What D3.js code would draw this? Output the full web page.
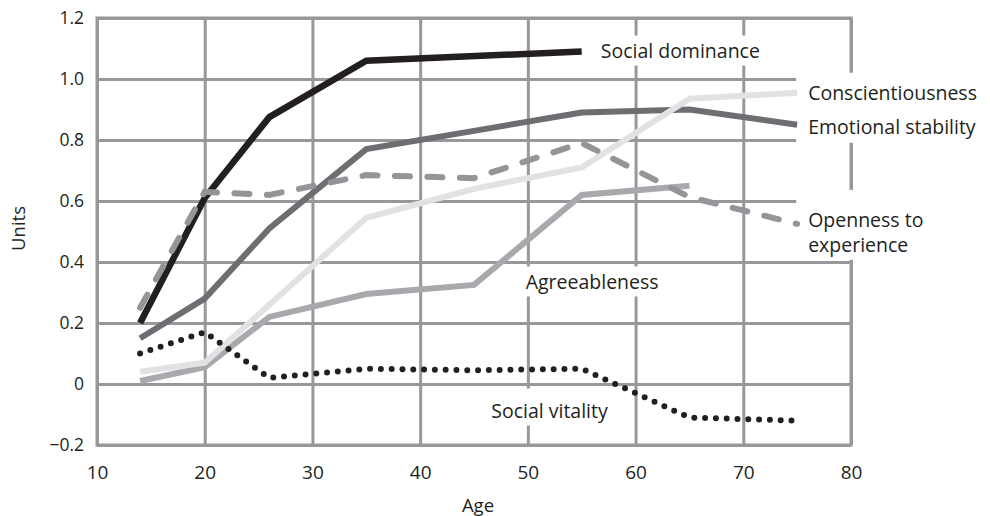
<!DOCTYPE html>
<html>
<head>
<meta charset="utf-8">
<script src="https://cdn.jsdelivr.net/npm/d3@7"></script>
<style>
  html, body { margin: 0; padding: 0; background: #fff; }
  svg { display: block; font-family: "Open Sans", sans-serif; }
</style>
</head>
<body>
<svg id="chart" width="990" height="516"></svg>
<script>
// Axis ticks
const xTicks = [10, 20, 30, 40, 50, 60, 70, 80];
const xTickLabels = ["10", "20", "30", "40", "50", "60", "70", "80"];
const yTicks = [-0.2, 0, 0.2, 0.4, 0.6, 0.8, 1.0, 1.2];
const yTickLabels = ["−0.2", "0", "0.2", "0.4", "0.6", "0.8", "1.0", "1.2"];

// Mean change in each trait (units) by age
const socialDominanceAges = [14, 20, 26, 35, 55];
const socialDominance = [0.20, 0.61, 0.875, 1.06, 1.09];

const emotionalStabilityAges = [14, 20, 26, 35, 45, 55, 65, 75];
const emotionalStability = [0.15, 0.28, 0.51, 0.77, 0.83, 0.89, 0.90, 0.85];

const agreeablenessAges = [14, 20, 26, 35, 45, 55, 65];
const agreeableness = [0.01, 0.055, 0.22, 0.295, 0.325, 0.62, 0.65];

const conscientiousnessAges = [14, 20, 35, 45, 55, 65, 75];
const conscientiousness = [0.04, 0.07, 0.545, 0.64, 0.71, 0.935, 0.955];

const opennessAges = [14, 20, 26, 35, 45, 55, 65, 75];
const openness = [0.25, 0.63, 0.62, 0.685, 0.675, 0.79, 0.613, 0.525];

const socialVitalityAges = [14, 20, 26, 35, 45, 55, 65, 75];
const socialVitality = [0.10, 0.17, 0.02, 0.05, 0.045, 0.05, -0.11, -0.12];

const GRID = "#98989b";
const svg = d3.select("#chart");

const x = d3.scaleLinear().domain([10, 80]).range([97, 851]);
const y = d3.scaleLinear().domain([-0.2, 1.2]).range([445, 18]);

// Grid lines come from the axes' tick lines
const gx = svg.append("g")
  .attr("transform", `translate(0,${y(-0.2)})`)
  .call(d3.axisBottom(x)
    .tickValues(xTicks)
    .tickFormat((d, i) => xTickLabels[i])
    .tickSize(-(y(-0.2) - y(1.2)))
    .tickPadding(21));
const gy = svg.append("g")
  .attr("transform", `translate(${x(10)},0)`)
  .call(d3.axisLeft(y)
    .tickValues(yTicks)
    .tickFormat((d, i) => yTickLabels[i])
    .tickSize(-(x(80) - x(10)))
    .tickPadding(13));

[gx, gy].forEach(g => {
  g.select(".domain").remove();
  g.selectAll(".tick line").attr("stroke", GRID).attr("stroke-width", 3);
  g.selectAll(".tick text").attr("fill", "#231f20").attr("font-family", "Open Sans, sans-serif");
});
gx.selectAll(".tick text").attr("font-size", 19);
gy.selectAll(".tick text").attr("font-size", 17.5).attr("dy", "0.34em");

svg.append("rect")
  .attr("x", x(10)).attr("y", y(1.2))
  .attr("width", x(80) - x(10)).attr("height", y(-0.2) - y(1.2))
  .attr("fill", "none").attr("stroke", GRID).attr("stroke-width", 3);

// Axis titles
svg.append("text")
  .attr("x", (x(10) + x(80)) / 2 + 4).attr("y", 512)
  .attr("text-anchor", "middle").attr("font-size", 18.5).attr("fill", "#231f20")
  .text("Age");
svg.append("text")
  .attr("transform", `translate(25,${y(0.51)}) rotate(-90)`)
  .attr("text-anchor", "middle").attr("font-size", 18.5).attr("fill", "#231f20")
  .text("Units");

// Series labels, each on a white patch that breaks the grid behind it
const labelLayer = svg.append("g");
const lineLayer = svg.append("g");
const textLayer = svg.append("g");

const labelSpecs = [
  { lines: ["Social dominance"], x: x(55) + 19, y: y(1.09) + 6, pad: [1, 10, 2, 8] },
  { lines: ["Conscientiousness", "Emotional stability"], x: x(75) + 11, y: y(0.955) + 7, gap: 34, pad: [6, 40, 3, 12] },
  { lines: ["Openness to", "experience"], x: x(75) + 11, y: y(0.525) + 3, gap: 25, pad: [16, 120, 2, 12] },
  { lines: ["Agreeableness"], x: x(49.8), y: y(0.31), pad: [2, 10, 1, 10] },
  { lines: ["Social vitality"], x: x(46.6), y: y(-0.11), pad: [8, 10, 2, 10] }
];

labelSpecs.forEach(s => {
  const t = textLayer.append("text")
    .attr("font-size", 19.5).attr("fill", "#231f20");
  s.lines.forEach((ln, i) => {
    t.append("tspan").attr("x", s.x).attr("y", s.y + i * (s.gap || 0)).text(ln);
  });
  const b = t.node().getBBox();
  labelLayer.append("rect")
    .attr("x", b.x - s.pad[3]).attr("y", b.y - s.pad[0])
    .attr("width", b.width + s.pad[1] + s.pad[3])
    .attr("height", b.height + s.pad[0] + s.pad[2])
    .attr("fill", "#fff");
});

const line = d3.line().x(d => x(d[0])).y(d => y(d[1]));
const series = [
  { ages: socialDominanceAges, vals: socialDominance, color: "#231f20", width: 6.5 },
  { ages: emotionalStabilityAges, vals: emotionalStability, color: "#6d6e71", width: 6 },
  { ages: agreeablenessAges, vals: agreeableness, color: "#a7a9ac", width: 6 },
  { ages: conscientiousnessAges, vals: conscientiousness, color: "#e1e2e3", width: 6 },
  { ages: opennessAges, vals: openness, color: "#939598", width: 6, dash: "15 17.5", cap: "round" },
  { ages: socialVitalityAges, vals: socialVitality, color: "#231f20", width: 6, dash: "0 10.8", cap: "round" }
];

series.forEach(s => {
  lineLayer.append("path")
    .datum(s.ages.map((a, i) => [a, s.vals[i]]))
    .attr("d", line)
    .attr("fill", "none")
    .attr("stroke", s.color)
    .attr("stroke-width", s.width)
    .attr("stroke-linejoin", "miter")
    .attr("stroke-linecap", s.cap || "butt")
    .attr("stroke-dasharray", s.dash || null);
});
</script>
</body>
</html>
